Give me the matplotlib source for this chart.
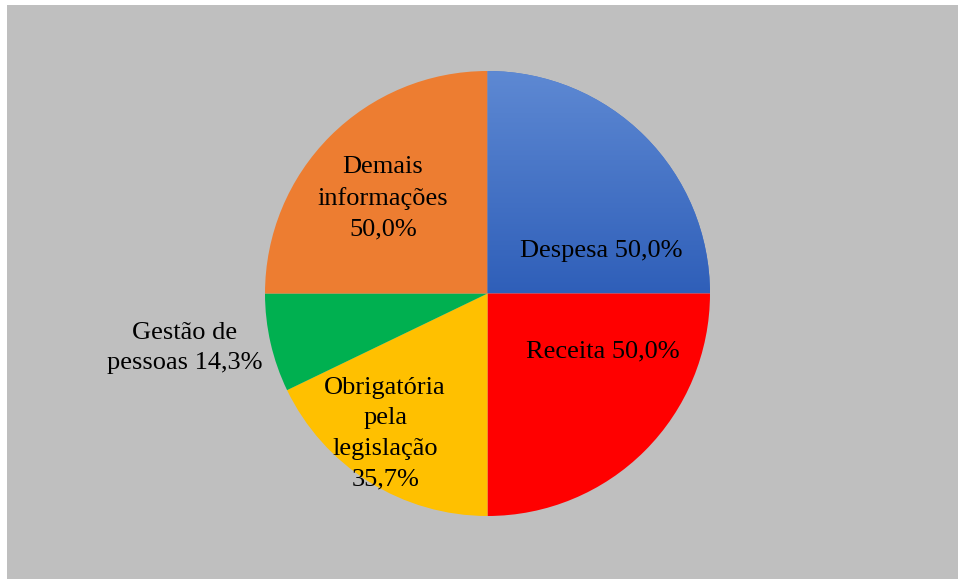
import numpy as np
import matplotlib
matplotlib.use("Agg")
import matplotlib.pyplot as plt
from matplotlib.colors import LinearSegmentedColormap

categories = ["Despesa", "Receita", "Obrigatória\npela\nlegislação", "Gestão de\npessoas", "Demais\ninformações"]
values = [50.0, 50.0, 35.7, 14.3, 50.0]
value_labels = ["50,0%", "50,0%", "35,7%", "14,3%", "50,0%"]
label_sep = [" ", " ", "\n", " ", "\n"]
colors = ["#4673C8", "#FF0000", "#FFC000", "#00B050", "#ED7D31"]
# label offsets relative to center, in units of radius
label_offsets = [(0.51, 0.19), (0.52, -0.26), (-0.46, -0.63), (-1.36, -0.245), (-0.47, 0.43)]

W, H = 958, 579
fig = plt.figure(figsize=(W / 100, H / 100), dpi=100)
fig.patch.set_facecolor("white")
bg = fig.add_axes([7 / W, 0, 1 - 7 / W, 1 - 5 / H])
bg.set_facecolor("#BFBFBF")
bg.set_xticks([]); bg.set_yticks([])
for s in bg.spines.values():
    s.set_visible(False)

ax = fig.add_axes([0, 0, 1, 1])
ax.set_xlim(0, W)
ax.set_ylim(0, H)
ax.set_aspect("equal")
ax.axis("off")

cx, cy, R = 487.5, H - 293.5, 222.5
wedges, _ = ax.pie(values, colors=colors, startangle=90, counterclock=False,
                   center=(cx, cy), radius=R, wedgeprops=dict(linewidth=0))
ax.set_xlim(0, W)
ax.set_ylim(0, H)

# gradient fill for the first wedge
grad = np.linspace(0, 1, 256).reshape(-1, 1)
cmap = LinearSegmentedColormap.from_list("g", ["#5E89D3", "#2F5FB9"])
im = ax.imshow(grad, cmap=cmap, extent=(cx, cx + R, cy, cy + R), origin="upper",
               aspect="auto", zorder=wedges[0].get_zorder() + 0.1)
im.set_clip_path(wedges[0])

for cat, vl, sep, (ox, oy) in zip(categories, value_labels, label_sep, label_offsets):
    ax.text(cx + ox * R, cy + oy * R, cat + sep + vl, ha="center", va="center",
            fontsize=19, family="Liberation Serif", color="black", linespacing=1.5,
            zorder=5)

fig.savefig("out.png", dpi=100)
